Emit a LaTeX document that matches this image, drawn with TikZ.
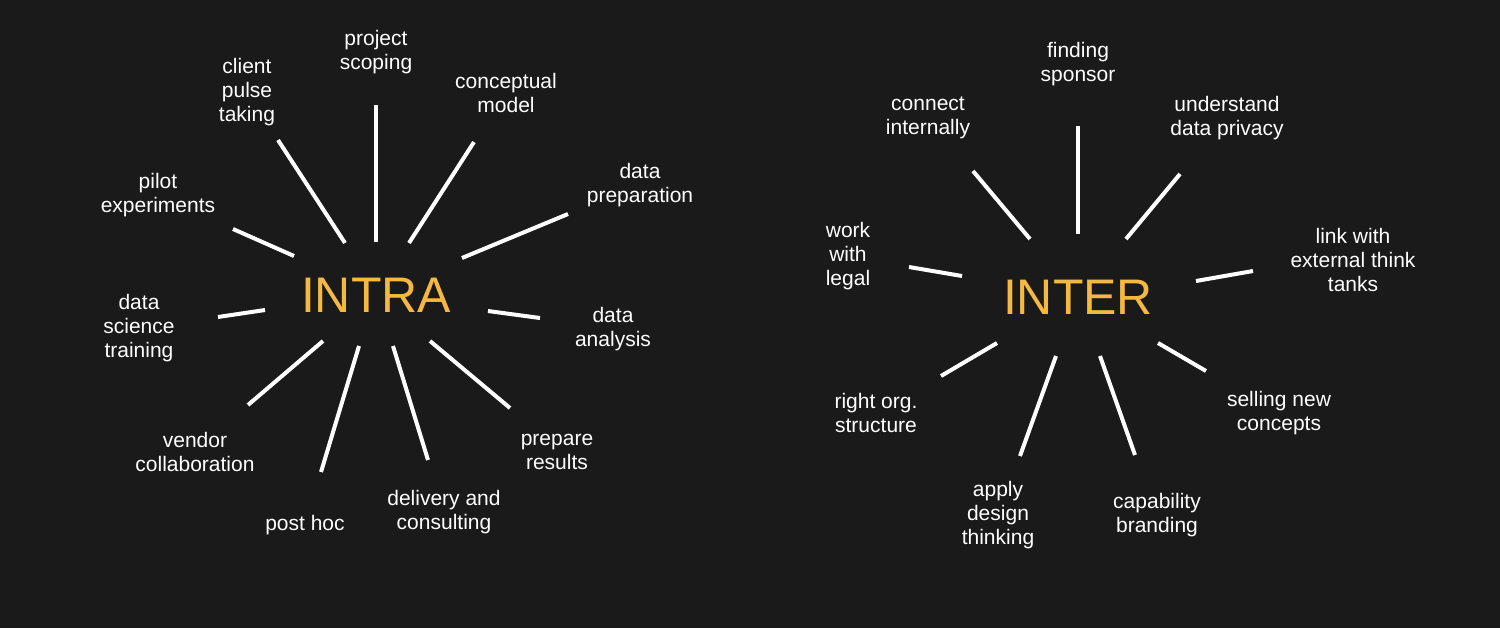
\documentclass[tikz,border=0pt]{standalone}
\usepackage{fontspec}
\setmainfont{Liberation Sans}
\definecolor{bg}{HTML}{1A1A1A}
\definecolor{hub}{HTML}{F5B942}
\begin{document}
\begin{tikzpicture}[x=0.5pt,y=-0.5pt,
  lbl/.style={text=white,font=\fontsize{10.5}{12}\selectfont,align=center,inner sep=0pt},
  hubtxt/.style={text=hub,font=\fontsize{25}{30}\selectfont,inner sep=0pt},
  spoke/.style={draw=white,line width=2pt}]
\fill[bg] (0,0) rectangle (1500,628);
\useasboundingbox (0,0) rectangle (1500,628);
\node[hubtxt] (intra) at (376,295) {INTRA};
\node[hubtxt] (inter) at (1078,297) {INTER};
\foreach \n/\a/\b/\c/\d in {s1/376/105/376/242, s2/278/140/345/243, s3/474/142/409/243, s4/568/214/462/258, s5/233/229/294/256, s6/218/317/265/310, s7/488/311/540/318, s8/323/341/248/405, s9/359/346/321/472, s10/393/346/428/460, s11/430/341/510/408,
 t1/1078/126/1078/234, t2/973/171/1030/239, t3/1180/174/1126/239, t4/909/267/962/276, t5/1253/271/1196/281, t6/997/343/941/376, t7/1056/356/1020/456, t8/1100/356/1135/455, t9/1158/343/1206/371}{
  \coordinate (\n a) at (\a,\b); \coordinate (\n b) at (\c,\d);
  \draw[spoke] (\n a) -- (\n b);
}
\node[lbl] (l1) at (376,52) {project\\scoping};
\node[lbl] (l2) at (247,92) {client\\pulse\\taking};
\node[lbl] (l3) at (506,93) {conceptual\\model};
\node[lbl] (l4) at (640,185) {data\\preparation};
\node[lbl] (l5) at (158,195) {pilot\\experiments};
\node[lbl] (l6) at (139,328) {data\\science\\training};
\node[lbl] (l7) at (613,329) {data\\analysis};
\node[lbl] (l8) at (195,452) {vendor\\collaboration};
\node[lbl] (l9) at (305,525) {post hoc};
\node[lbl] (l10) at (444,512) {delivery and\\consulting};
\node[lbl] (l11) at (557,452) {prepare\\results};
\node[lbl] (m1) at (1078,64) {finding\\sponsor};
\node[lbl] (m2) at (928,118) {connect\\internally};
\node[lbl] (m3) at (1227,118) {understand\\data privacy};
\node[lbl] (m4) at (848,256) {work\\with\\legal};
\node[lbl] (m5) at (1353,260) {link with\\external think\\tanks};
\node[lbl] (m6) at (876,413) {right org.\\structure};
\node[lbl] (m7) at (998,515) {apply\\design\\thinking};
\node[lbl] (m8) at (1157,515) {capability\\branding};
\node[lbl] (m9) at (1279,413) {selling new\\concepts};
\end{tikzpicture}
\end{document}
